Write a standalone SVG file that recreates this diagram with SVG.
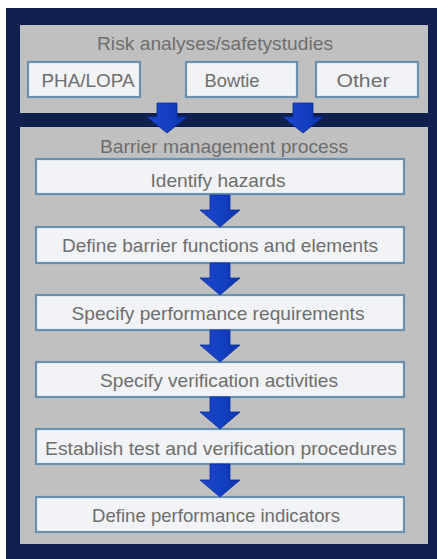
<svg xmlns="http://www.w3.org/2000/svg" width="437" height="559" viewBox="0 0 437 559">
<style>
.panel{fill:#c0c0c0}
.box{fill:#f1f3f6;stroke:#6a92b0;stroke-width:2.2}
.t{font-family:"Liberation Sans",Arial,sans-serif;fill:#6e6e6e;text-anchor:middle;font-size:19px}
.arr{fill:url(#ag);stroke:#0b2f9e;stroke-width:0.8}
</style>
<defs>
<linearGradient id="ag" x1="0" y1="0" x2="1" y2="0">
<stop offset="0" stop-color="#1d46c8"/>
<stop offset="0.5" stop-color="#1440c4"/>
<stop offset="1" stop-color="#0b34a8"/>
</linearGradient>
</defs>
<rect x="0" y="0" width="437" height="559" fill="#ffffff"/>
<rect x="6" y="8" width="431" height="551" fill="#0f1f4e"/>
<g id="risk-panel">
<rect class="panel" x="20" y="25" width="408" height="88"/>
<text class="t" x="215" y="50" textLength="236" lengthAdjust="spacingAndGlyphs">Risk analyses/safetystudies</text>
</g>
<g id="pha-lopa">
<rect class="box" x="28" y="62" width="112" height="35"/>
<text class="t" x="88" y="87" textLength="93" lengthAdjust="spacingAndGlyphs">PHA/LOPA</text>
</g>
<g id="bowtie">
<rect class="box" x="186" y="62" width="111" height="35"/>
<text class="t" x="232" y="87" textLength="55" lengthAdjust="spacingAndGlyphs">Bowtie</text>
</g>
<g id="other">
<rect class="box" x="316" y="62" width="102" height="35"/>
<text class="t" x="363" y="87" textLength="53" lengthAdjust="spacingAndGlyphs">Other</text>
</g>
<g id="barrier-panel">
<rect class="panel" x="20" y="127" width="408" height="417"/>
<text class="t" x="224" y="153" textLength="248" lengthAdjust="spacingAndGlyphs">Barrier management process</text>
</g>
<g id="identify-hazards">
<rect class="box" x="36" y="159" width="368" height="35"/>
<text class="t" x="218" y="187" textLength="135" lengthAdjust="spacingAndGlyphs">Identify hazards</text>
</g>
<g id="define-barrier">
<rect class="box" x="36" y="227" width="368" height="36"/>
<text class="t" x="220" y="252" textLength="316" lengthAdjust="spacingAndGlyphs">Define barrier functions and elements</text>
</g>
<g id="specify-performance">
<rect class="box" x="36" y="295" width="368" height="35"/>
<text class="t" x="218" y="320" textLength="293" lengthAdjust="spacingAndGlyphs">Specify performance requirements</text>
</g>
<g id="specify-verification">
<rect class="box" x="36" y="362" width="368" height="35"/>
<text class="t" x="219" y="387" textLength="238" lengthAdjust="spacingAndGlyphs">Specify verification activities</text>
</g>
<g id="establish-test">
<rect class="box" x="36" y="429" width="368" height="35"/>
<text class="t" x="221" y="455" textLength="352" lengthAdjust="spacingAndGlyphs">Establish test and verification procedures</text>
</g>
<g id="define-indicators">
<rect class="box" x="36" y="497" width="368" height="35"/>
<text class="t" x="216" y="522" textLength="248" lengthAdjust="spacingAndGlyphs">Define performance indicators</text>
</g>
<g id="connectors">
<polygon class="arr" points="157,103 177,103 177,117 187,117 167,133 147,117 157,117"/>
<polygon class="arr" points="293,103 313,103 313,117 323,117 303,133 283,117 293,117"/>
<polygon class="arr" points="210,195 230,195 230,210 240,210 220,227 200,210 210,210"/>
<polygon class="arr" points="210,263 230,263 230,278 240,278 220,295 200,278 210,278"/>
<polygon class="arr" points="210,330 230,330 230,345 240,345 220,362 200,345 210,345"/>
<polygon class="arr" points="210,397 230,397 230,412 240,412 220,429 200,412 210,412"/>
<polygon class="arr" points="210,464 230,464 230,480 240,480 220,497 200,480 210,480"/>
</g>
</svg>
